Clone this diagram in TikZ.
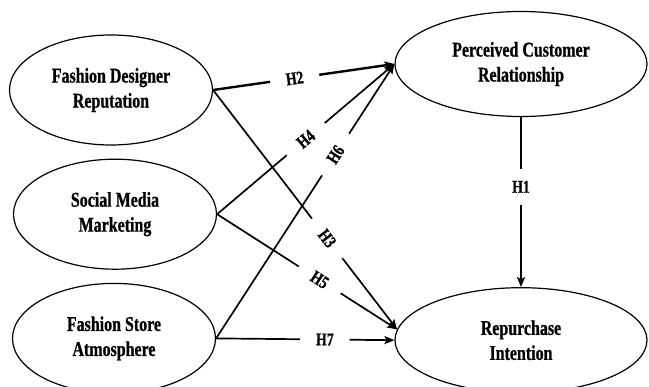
\documentclass[tikz,border=0pt]{standalone}
\usepackage{fontspec}
\setmainfont{Liberation Serif}[FakeStretch=0.76, BoldFeatures={FakeBold=0.8}]
\usetikzlibrary{arrows.meta,shapes,positioning}

\begin{document}
\begin{tikzpicture}[x=1pt, y=-1pt, font=\bfseries, ->, >={Stealth[length=10pt,width=8pt,inset=2pt]}, line width=1.7pt]
    \tikzstyle{construct} = [ellipse, draw, line width=1.2pt, inner sep=0, minimum width=203, minimum height=110, align=center, font=\fontsize{21}{25}\selectfont\bfseries]
    \tikzstyle{outcome} = [construct, minimum width=252, minimum height=105]
    \tikzstyle{desc} = [fill=white, font=\fontsize{18}{18}\selectfont\bfseries, inner xsep=16, inner ysep=1]
    \tikzstyle{sdesc} = [desc, sloped]

    \useasboundingbox (0,0) rectangle (649,387);

    \node[construct]                               (fdr) at (111,90) {Fashion Designer\\Reputation};
    \node[construct, below=13pt of fdr, xshift=4pt] (smm) {Social Media\\Marketing};
    \node[construct, below=13pt of smm, xshift=-1pt] (fsa) {Fashion Store\\Atmosphere};
    \node[outcome]                                 (pcr) at (521,64) {Perceived Customer\\Relationship};
    \node[outcome, below=170pt of pcr]             (ri)  {Repurchase\\Intention};

    \draw[line width=2.4pt] (fdr.east) -- (pcr.west) node[sdesc, pos=0.45] {H2};
    \draw (fdr.east) -- (ri.175)   node[sdesc, pos=0.62] {H3};
    \draw (smm.east) -- (pcr.west) node[sdesc, pos=0.50] {H4};
    \draw (smm.east) -- (ri.175)   node[sdesc, pos=0.57] {H5};
    \draw (fsa.east) -- (pcr.west) node[sdesc, pos=0.67] {H6};
    \draw (fsa.east) -- (ri.west)  node[sdesc, pos=0.61] {H7};
    \draw (pcr)      -- (ri)       node[desc, pos=0.41, inner ysep=12] {H1};
\end{tikzpicture}
\end{document}
